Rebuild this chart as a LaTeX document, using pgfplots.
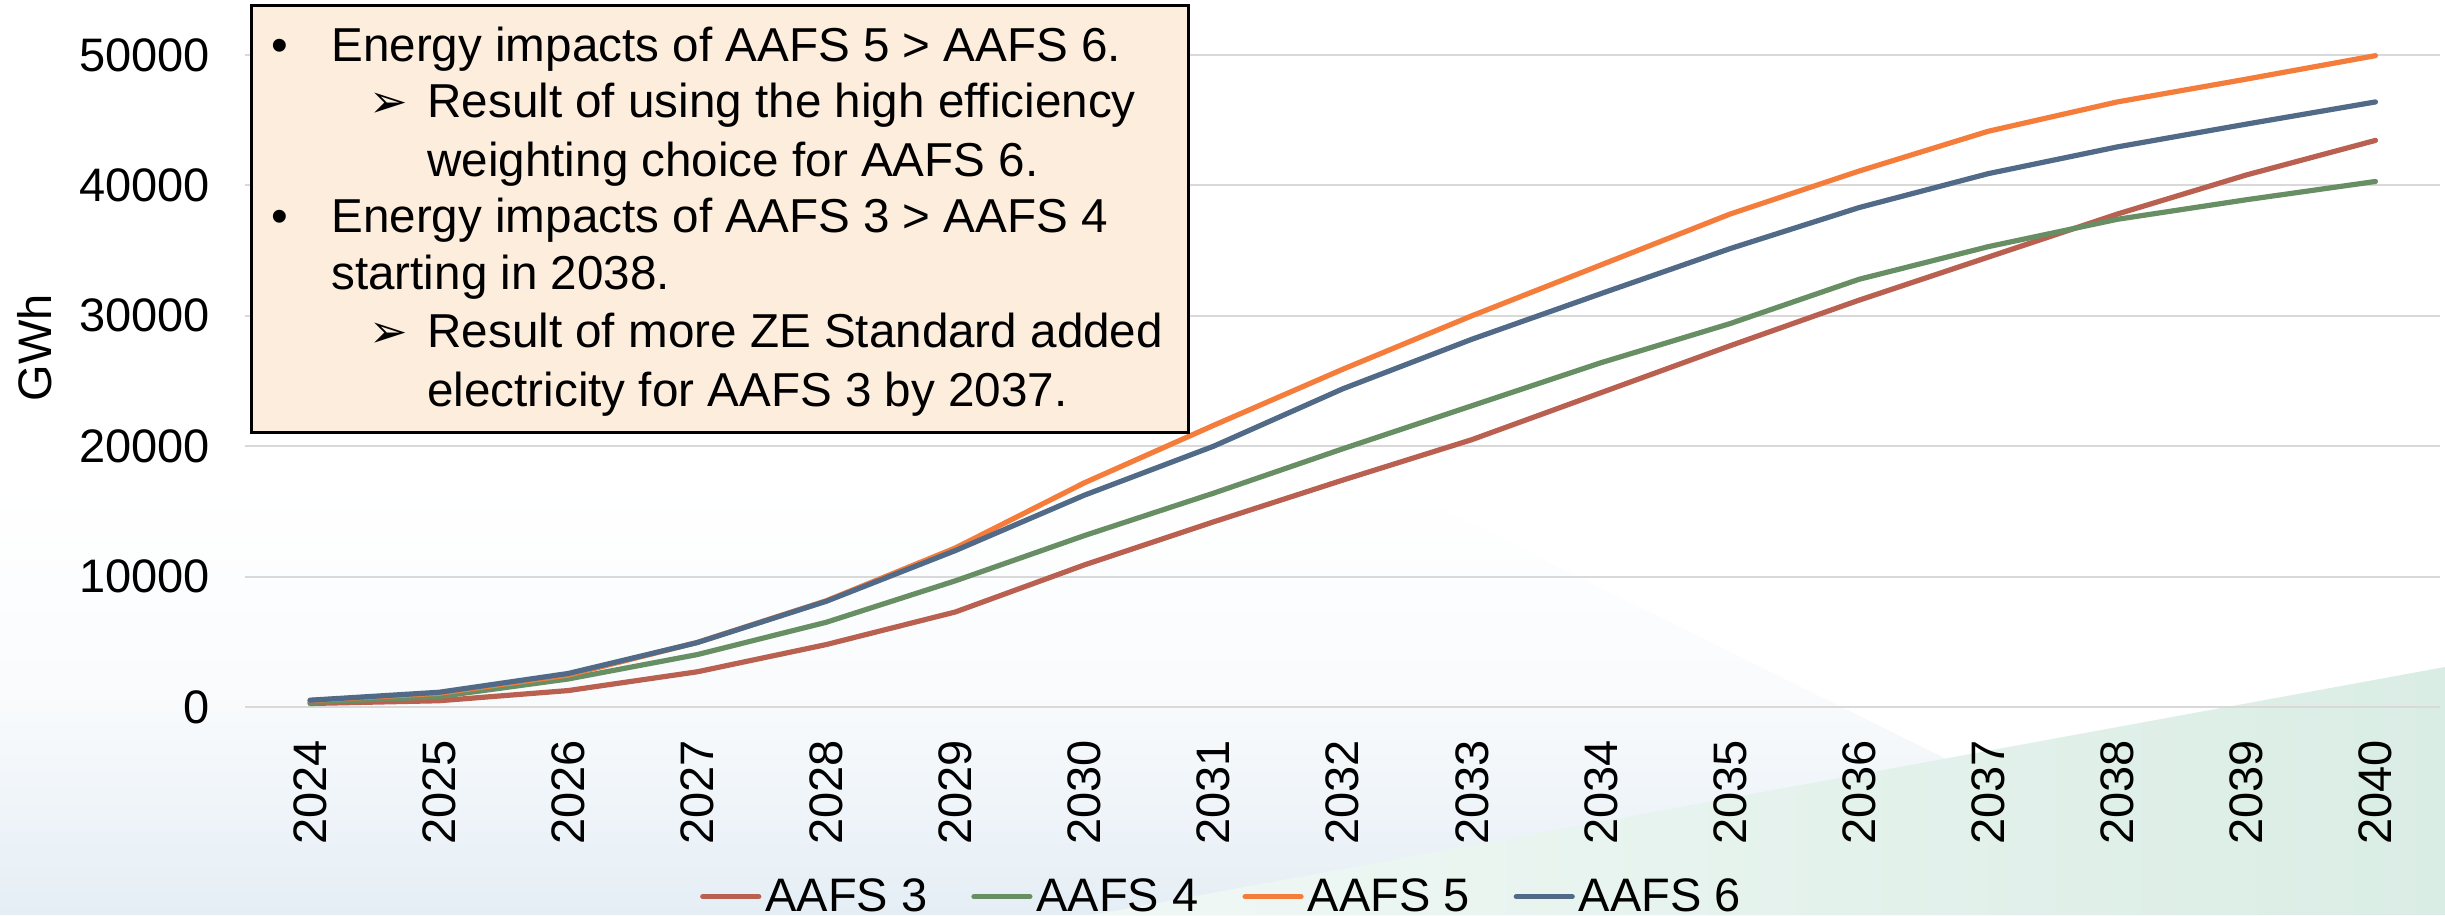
\documentclass[border=0pt]{standalone}
\usepackage{fontspec}
\setmainfont{Liberation Sans}
\newfontfamily\dejavu{DejaVu Sans}
\usepackage{pgfplots}
\usepackage{pgfplotstable}
\pgfplotsset{compat=1.18}
\definecolor{cRed}{RGB}{185,96,80}
\definecolor{cGreen}{RGB}{104,142,100}
\definecolor{cOrange}{RGB}{245,125,60}
\definecolor{cBlue}{RGB}{80,106,135}
\definecolor{gridgray}{RGB}{217,217,217}
\definecolor{boxfill}{RGB}{253,237,220}
\definecolor{bgblue}{RGB}{229,238,245}
\definecolor{bggreen}{RGB}{218,237,229}

\pgfplotstableread{
year a3 a4 a5 a6
2024 270 350 500 520
2025 480 800 1050 1130
2026 1260 2150 2450 2570
2027 2700 4020 4950 4940
2028 4790 6500 8150 8110
2029 7290 9680 12200 12000
2030 10900 13150 17200 16250
2031 14200 16400 21600 20000
2032 17400 19800 25900 24400
2033 20500 23100 30000 28200
2034 24100 26400 33900 31700
2035 27700 29400 37800 35150
2036 31200 32800 41100 38300
2037 34500 35300 44150 40900
2038 37800 37400 46400 42950
2039 40800 38900 48150 44700
2040 43450 40300 49950 46400
}\datatable

\begin{document}
\begin{tikzpicture}[x=0.5pt,y=0.5pt]
\path[use as bounding box] (0,0) rectangle (2445,915);
\fill[white] (0,0) rectangle (2445,915);
\shade[top color=white, bottom color=bgblue, middle color=white!75!bgblue] (0,0) -- (2262,0) -- (1388,432) -- (0,432) -- cycle;
\shade[left color=bggreen!40!white, right color=bggreen] (1092,0) -- (2445,0) -- (2445,248) -- cycle;

\begin{axis}[
  at={(122.75pt,104pt)}, anchor=south west,
  scale only axis, width=1097.25pt, height=326pt,
  xmin=2023.5, xmax=2040.5, ymin=0, ymax=50000,
  clip=false,
  scaled y ticks=false,
  axis x line=bottom, axis y line=left,
  axis line style={draw=none,-},
  major tick length=0pt,
  xtick={2024,2025,...,2040},
  xticklabels={2024,2025,2026,2027,2028,2029,2030,2031,2032,2033,2034,2035,2036,2037,2038,2039,2040},
  ytick={0,10000,20000,30000,40000,50000},
  yticklabels={0,10000,20000,30000,40000,50000},
  ymajorgrids, grid style={line width=1pt, color=gridgray},
  tick label style={font=\fontsize{23.5}{28}\selectfont},
  yticklabel style={anchor=east, inner sep=0pt, xshift=-17.5pt},
  xticklabel style={rotate=90, anchor=east, inner xsep=16.5pt, inner ysep=0pt},
  ylabel={GWh},
  every axis y label/.style={at={(axis description cs:-0.0959,0.551)}, rotate=90, anchor=center, font=\fontsize{23.5}{28}\selectfont},
  legend columns=4,
  legend style={at={(0.4452,-0.291)}, anchor=center, draw=none, fill=none,
    font=\fontsize{23.5}{28}\selectfont,
    /tikz/every even column/.append style={column sep=20pt}},
  legend image code/.code={\draw[#1] (0pt,0pt) -- (28pt,0pt);},
  every axis plot/.append style={line width=2.6pt, line join=round, line cap=round},
]
\addplot[cRed, no marks] table[x=year, y=a3] {\datatable};
\addplot[cGreen, no marks] table[x=year, y=a4] {\datatable};
\addplot[cOrange, no marks] table[x=year, y=a5] {\datatable};
\addplot[cBlue, no marks] table[x=year, y=a6] {\datatable};
\legend{AAFS 3, AAFS 4, AAFS 5, AAFS 6}
\end{axis}

\draw[line width=1.5pt, fill=boxfill] (251,909) rectangle (1188,482);
\begin{scope}[every node/.style={anchor=base west, inner sep=0pt, font=\fontsize{23.8}{28}\selectfont}]
\node at (271,853) {•};
\node at (331,853) {Energy impacts of AAFS 5 > AAFS 6.};
\node at (369,797) {\dejavu\fontsize{23}{24}\selectfont ➢};
\node at (427,797) {Result of using the high efficiency};
\node at (427,738) {weighting choice for AAFS 6.};
\node at (271,682) {•};
\node at (331,682) {Energy impacts of AAFS 3 > AAFS 4};
\node at (331,625) {starting in 2038.};
\node at (369,567) {\dejavu\fontsize{23}{24}\selectfont ➢};
\node at (427,567) {Result of more ZE Standard added};
\node at (427,508) {electricity for AAFS 3 by 2037.};
\end{scope}
\end{tikzpicture}
\end{document}
